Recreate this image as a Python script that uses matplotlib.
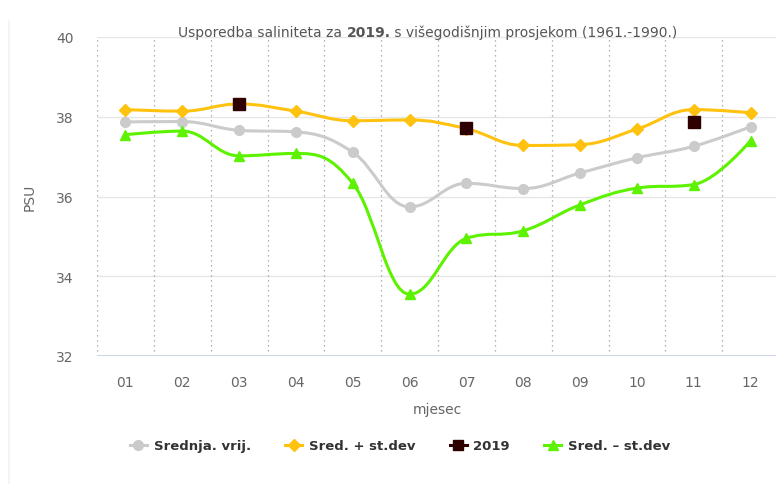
import numpy as np
import matplotlib
matplotlib.use("Agg")
import matplotlib.pyplot as plt
from matplotlib.path import Path
from matplotlib.patches import PathPatch
from matplotlib.lines import Line2D

months = ["01", "02", "03", "04", "05", "06", "07", "08", "09", "10", "11", "12"]
mean_vals = [37.87, 37.88, 37.66, 37.62, 37.11, 35.74, 36.33, 36.20, 36.59, 36.97, 37.26, 37.75]
plus_sd = [38.18, 38.14, 38.32, 38.14, 37.90, 37.92, 37.70, 37.28, 37.30, 37.69, 38.18, 38.10]
year_2019 = [np.nan, np.nan, 38.33, np.nan, np.nan, np.nan, 37.71, np.nan, np.nan, np.nan, 37.88, np.nan]
minus_sd = [37.55, 37.64, 37.02, 37.08, 36.33, 33.55, 34.95, 35.14, 35.79, 36.21, 36.30, 37.40]

title_parts = ["Usporedba saliniteta za ", "2019.", " s višegodišnjim prosjekom (1961.-1990.)"]
legend_labels = ["Srednja. vrij.", "Sred. + st.dev", "2019", "Sred. \u2013 st.dev"]

W, H = 776, 485
fig = plt.figure(figsize=(W / 100, H / 100), dpi=100)
fig.patch.set_facecolor("white")
ax_left, ax_right, ax_top, ax_bottom = 97, 779, 38, 357
ax = fig.add_axes([ax_left / W, 1 - ax_bottom / H, (ax_right - ax_left) / W, (ax_bottom - ax_top) / H])

# faint left border line
fig.add_artist(Line2D([9 / W, 9 / W], [1 - 22 / H, 0.0], transform=fig.transFigure, color="#f2f2f2", lw=1.2))

x = np.arange(len(months))
ax.set_xlim(-0.5, len(months) - 0.5)
ax.set_ylim(32, 40)


def spline_path(xs, ys, smoothing=1.5):
    X = np.asarray(xs, float)
    Y = np.asarray(ys, float)
    n = len(X)
    lc = [None] * n
    rc = [None] * n
    denom = smoothing + 1
    for i in range(1, n - 1):
        px, py = X[i], Y[i]
        lx, ly = X[i - 1], Y[i - 1]
        nx, ny = X[i + 1], Y[i + 1]
        lcx = (smoothing * px + lx) / denom
        lcy = (smoothing * py + ly) / denom
        rcx = (smoothing * px + nx) / denom
        rcy = (smoothing * py + ny) / denom
        corr = 0.0
        if rcx != lcx:
            corr = (rcy - lcy) * (rcx - px) / (rcx - lcx) + py - rcy
        lcy += corr
        rcy += corr
        if lcy > ly and lcy > py:
            lcy = max(ly, py)
            rcy = 2 * py - lcy
        elif lcy < ly and lcy < py:
            lcy = min(ly, py)
            rcy = 2 * py - lcy
        if rcy > ny and rcy > py:
            rcy = max(ny, py)
            lcy = 2 * py - rcy
        elif rcy < ny and rcy < py:
            rcy = min(ny, py)
            lcy = 2 * py - rcy
        lc[i] = (lcx, lcy)
        rc[i] = (rcx, rcy)
    verts = [(X[0], Y[0])]
    codes = [Path.MOVETO]
    for i in range(1, n):
        c1 = rc[i - 1] if rc[i - 1] is not None else (X[i - 1], Y[i - 1])
        c2 = lc[i] if lc[i] is not None else (X[i], Y[i])
        verts += [c1, c2, (X[i], Y[i])]
        codes += [Path.CURVE4] * 3
    return Path(verts, codes)


# grid
for v in range(32, 41, 2):
    ax.axhline(v, color="#e6e6e6", lw=1, zorder=0)
for b in np.arange(-0.5, len(months), 1.0):
    ax.axvline(b, color="#9a9a9a", lw=0.9, ls=(0, (1, 3)), zorder=0)
ax.axhline(32, color="#ccd6eb", lw=1.5, zorder=1)

series = [
    (mean_vals, "#cbcbcb", "o", 7),
    (plus_sd, "#ffc20e", "D", 6),
    (minus_sd, "#5df200", "^", 7.5),
]
for vals, col, mk, ms in series:
    ax.add_patch(PathPatch(spline_path(x, vals), facecolor="none", edgecolor=col, lw=2.2, zorder=2))
    ax.plot(x, vals, ls="none", marker=mk, color=col, ms=ms, mec=col, zorder=3)
ax.plot(x, year_2019, ls="none", marker="s", color="#2f0000", ms=8, zorder=4)

for s in ax.spines.values():
    s.set_visible(False)
ax.set_xticks(x)
ax.set_xticklabels(months)
ax.set_yticks(range(32, 41, 2))
ax.tick_params(axis="both", length=0, labelsize=10, labelcolor="#666666")
ax.tick_params(axis="x", pad=14)
ax.tick_params(axis="y", pad=17)
ax.set_xlabel("mjesec", color="#666666", fontsize=10, labelpad=12)
ax.xaxis.set_label_coords((437 - ax_left) / (ax_right - ax_left), -(403 - ax_bottom) / (ax_bottom - ax_top))
ax.set_ylabel("PSU", color="#666666", fontsize=10)
ax.yaxis.set_label_coords(-(97 - 37) / (ax_right - ax_left), (ax_bottom - 197) / (ax_bottom - ax_top))

# title with bold part
t1 = fig.text(178 / W, 1 - 33 / H, title_parts[0], fontsize=10, color="#555555", va="center", ha="left")
t2 = ax.annotate(title_parts[1], xy=(1, 0.5), xycoords=t1, va="center", ha="left",
                 fontsize=10, color="#555555", fontweight="bold")
t3 = ax.annotate(title_parts[2], xy=(1, 0.5), xycoords=t2, va="center", ha="left",
                 fontsize=10, color="#555555")

# legend
handles = [
    Line2D([], [], color="#cbcbcb", marker="o", ms=7, lw=2.2),
    Line2D([], [], color="#ffc20e", marker="D", ms=6, lw=2.2),
    Line2D([], [], color="#2f0000", marker="s", ms=7, lw=2.2),
    Line2D([], [], color="#5df200", marker="^", ms=7.5, lw=2.2),
]
leg = fig.legend(handles, legend_labels, loc="center", bbox_to_anchor=(400 / W, 1 - 447 / H),
                 ncol=4, frameon=False, handlelength=1.3, handletextpad=0.5, columnspacing=2.6,
                 prop={"weight": "bold", "size": 9.5})
for t in leg.get_texts():
    t.set_color("#333333")

fig.savefig("out.png", dpi=100, facecolor="white")
